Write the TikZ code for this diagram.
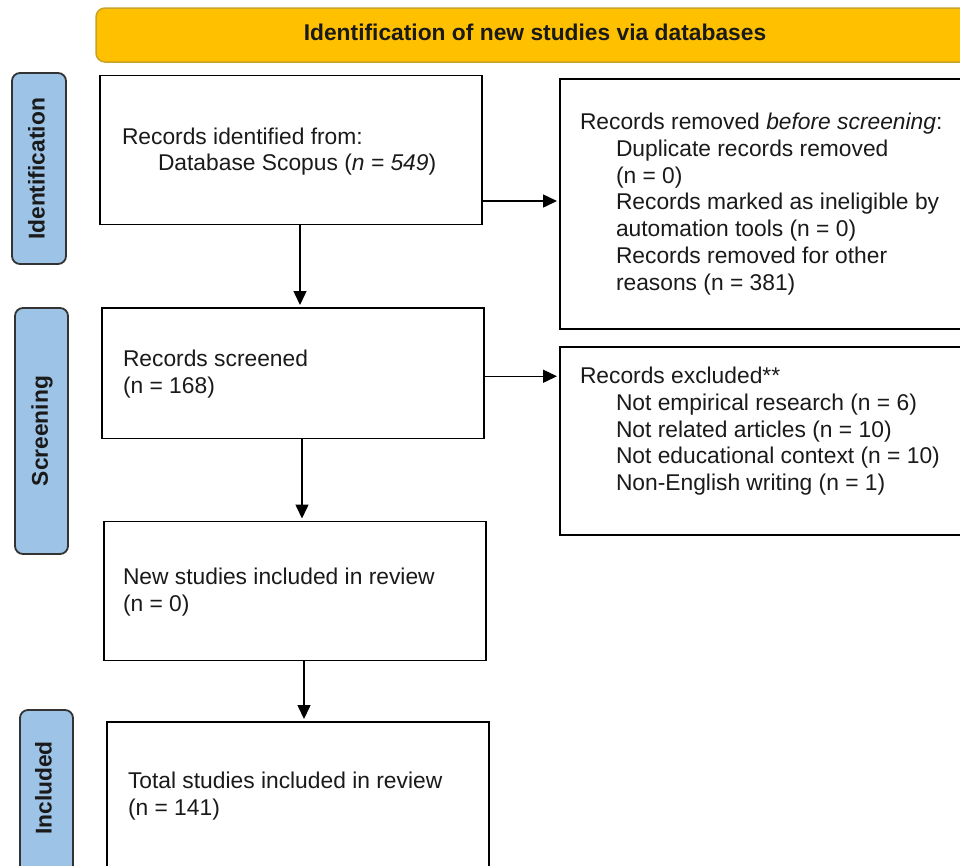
\documentclass[tikz,border=0pt]{standalone}
\usepackage{fontspec}
\setmainfont{Liberation Sans}
\usetikzlibrary{arrows.meta,calc}
\definecolor{bannerfill}{HTML}{FFC000}
\definecolor{bannerline}{HTML}{C9A227}
\definecolor{tabfill}{HTML}{9DC3E6}
\definecolor{tabline}{HTML}{333333}
\definecolor{ink}{HTML}{1A1A1A}
\begin{document}
\begin{tikzpicture}[x=1pt,y=-1pt,
  box/.style={draw=black, line width=1.8pt, anchor=north west, inner sep=0pt, outer sep=0pt},
  tabbox/.style={draw=tabline, fill=tabfill, line width=1.8pt, rounded corners=8pt, anchor=north west, inner sep=0pt, outer sep=0pt},
  bannerbox/.style={draw=bannerline, fill=bannerfill, line width=1.5pt, rounded corners=9pt, anchor=north west, inner sep=0pt, outer sep=0pt},
  txt/.style={anchor=north west, inner sep=0pt, outer sep=0pt, align=left, font=\fontsize{22.8}{26.8}\selectfont, text=ink},
  tablabel/.style={rotate=90, inner sep=0pt, font=\fontsize{22.8}{26.8}\selectfont\bfseries, text=ink},
  arr/.style={line width=1.5pt, -{Triangle[length=14pt,width=13pt]}, shorten >=3pt}
]
\useasboundingbox (0,0) rectangle (960,865);
\clip (0,0) rectangle (960,865);
\fill[white] (0,0) rectangle (960,865);

% banner
\node[bannerbox, minimum width=900pt, minimum height=54pt] (banner) at (96,8) {};
\node[anchor=base, inner sep=0pt, font=\fontsize{22.8}{26.8}\selectfont\bfseries, text=ink] (bannertxt) at (535,40) {Identification of new studies via databases};

% stage tabs
\node[tabbox, minimum width=54pt, minimum height=191pt] (tabid) at (12,73) {};
\node[tablabel] (labid) at (36.5,169) {Identification};
\node[tabbox, minimum width=53pt, minimum height=246pt] (tabsc) at (15,308) {};
\node[tablabel] (labsc) at (42,431) {Screening};
\node[tabbox, minimum width=53pt, minimum height=200pt] (tabin) at (20,710) {};
\node[tablabel] (labin) at (43.5,788) {Included};

% boxes
\node[box, minimum width=382pt, minimum height=149pt] (b1) at (100,75.5) {};
\node[box, minimum width=430pt, minimum height=250pt] (b2) at (560,79) {};
\node[box, minimum width=382pt, minimum height=130.5pt] (b3) at (102,308) {};
\node[box, minimum width=430pt, minimum height=188pt] (b4) at (560,347) {};
\node[box, minimum width=382pt, minimum height=139pt] (b5) at (104,521.5) {};
\node[box, minimum width=382pt, minimum height=170pt] (b6) at (107,722) {};

% texts
\node[txt] (t1) at (122,127.5) {Records identified from:\\\hspace*{36pt}Database Scopus (\textit{n = 549})};
\node[txt] (t2) at (580,113) {Records removed \textit{before screening}:\\
\hspace*{36pt}Duplicate records removed\\
\hspace*{36pt}(n = 0)\\
\hspace*{36pt}Records marked as ineligible by\\
\hspace*{36pt}automation tools (n = 0)\\
\hspace*{36pt}Records removed for other\\
\hspace*{36pt}reasons (n = 381)};
\node[txt] (t3) at (123,350) {Records screened\\(n = 168)};
\node[txt] (t4) at (580,367) {Records excluded**\\
\hspace*{36pt}Not empirical research (n = 6)\\
\hspace*{36pt}Not related articles (n = 10)\\
\hspace*{36pt}Not educational context (n = 10)\\
\hspace*{36pt}Non-English writing (n = 1)};
\node[txt] (t5) at (123,568) {New studies included in review\\(n = 0)};
\node[txt] (t6) at (128,772) {Total studies included in review\\(n = 141)};

% connectors
\draw[arr] ([yshift=-51pt]b1.east) -- ([yshift=-51pt]b1.east -| b2.west);
\draw[arr] ([xshift=9pt]b1.south) -- ([xshift=9pt]b1.south |- b3.north);
\draw[arr] ([yshift=-3pt]b3.east) -- ([yshift=-3pt]b3.east -| b4.west);
\draw[arr] ([xshift=9pt]b3.south) -- ([xshift=9pt]b3.south |- b5.north);
\draw[arr] ([xshift=9pt]b5.south) -- ([xshift=9pt]b5.south |- b6.north);
\end{tikzpicture}
\end{document}
